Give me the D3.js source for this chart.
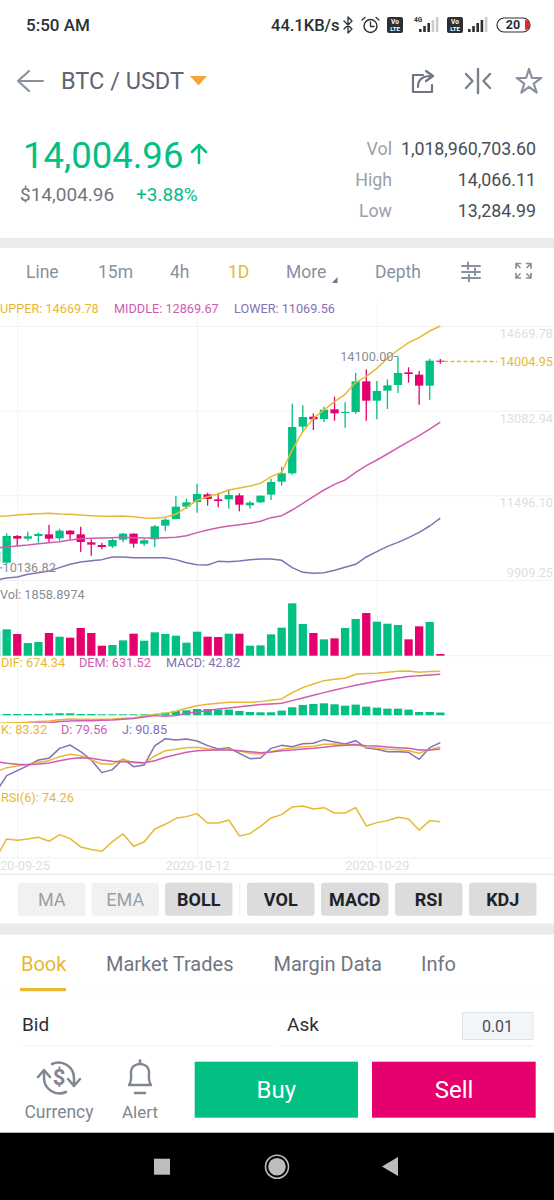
<!DOCTYPE html>
<html>
<head>
<meta charset="utf-8">
<script src="https://cdn.jsdelivr.net/npm/d3@7"></script>
<style>
  html, body { margin: 0; padding: 0; background: #fff; }
  svg { display: block; font-family: Roboto, sans-serif; }
</style>
</head>
<body>
<script>
const dates = ["2020-09-23","2020-09-24","2020-09-25","2020-09-26","2020-09-27","2020-09-28","2020-09-29","2020-09-30",
  "2020-10-01","2020-10-02","2020-10-03","2020-10-04","2020-10-05","2020-10-06","2020-10-07","2020-10-08","2020-10-09",
  "2020-10-10","2020-10-11","2020-10-12","2020-10-13","2020-10-14","2020-10-15","2020-10-16","2020-10-17","2020-10-18",
  "2020-10-19","2020-10-20","2020-10-21","2020-10-22","2020-10-23","2020-10-24","2020-10-25","2020-10-26","2020-10-27",
  "2020-10-28","2020-10-29","2020-10-30","2020-10-31","2020-11-01","2020-11-02","2020-11-03","2020-11-04"];
const dateTicks = ["2020-09-25","2020-10-12","2020-10-29"];
const priceTicks = [14669.78,13082.94,11496.10,9909.25];

const opens = [10250,10234,10734,10684,10734,10765,10690,10834,10765,10615,10565,10540,10665,10778,10590,10672,10928,11053,11284,11371,11515,11421,11421,11496,11309,11365,11509,11752,11909,12783,12970,12927,13108,13039,13058,13633,13270,13458,13564,13801,13758,13552,14020];
const highs = [10500,10784,10753,10815,10797,10946,10871,10847,10909,10672,10609,10684,10790,10784,10678,10940,11065,11484,11434,11715,11546,11546,11609,11534,11390,11496,11809,12033,13214,13183,13033,13158,13345,13239,13789,13858,13639,13670,14100,13895,13826,14058,14051];
const lows = [10136.82,10222,10547,10647,10609,10609,10647,10672,10434,10365,10484,10509,10615,10515,10547,10528,10828,11046,11240,11171,11303,11271,11246,11196,11246,11353,11409,11677,11884,12677,12721,12871,12895,12764,13020,12895,12921,13114,13414,13608,13195,13289,13964];
const closes = [10450,10734,10684,10728,10772,10684,10834,10765,10622,10572,10528,10659,10778,10590,10653,10915,11040,11284,11365,11521,11428,11390,11503,11321,11359,11490,11746,11909,12777,12964,12921,13102,13033,13058,13633,13270,13452,13558,13789,13770,13552,14020,14004.95];

const bollUpper = [11103,11109,11128,11140,11153,11159,11146,11140,11128,11115,11103,11103,11109,11096,11071,11065,11084,11146,11271,11403,11471,11521,11596,11634,11671,11721,11846,11927,12346,12689,12939,13095,13252,13389,13614,13720,13876,14064,14220,14357,14451,14576,14669.78];
const bollMiddle = [10509,10528,10547,10565,10590,10609,10628,10659,10684,10690,10697,10703,10709,10703,10697,10697,10703,10709,10740,10797,10847,10890,10921,10946,10971,11009,11078,11115,11221,11346,11471,11596,11702,11784,11927,12052,12158,12271,12390,12502,12614,12739,12869.67];
const bollLower = [9909,9947,9966,10016,10047,10078,10141,10203,10247,10272,10291,10341,10341,10328,10328,10328,10328,10291,10234,10197,10191,10259,10253,10266,10291,10303,10303,10278,10141,10053,10034,10047,10091,10147,10203,10341,10441,10540,10615,10703,10803,10921,11069.56];

const volumes = [27500,29400,24200,14100,15250,25300,21200,20100,30900,25300,11160,11900,17100,24550,16740,26040,24180,22320,14500,26800,21200,20830,24550,24550,11160,11530,23800,31250,58400,35340,25300,18230,19340,30880,40920,47600,37940,35700,34220,18230,32740,37570,1858.8974];

const macdBars = [20,20,20,20,20,26,31,31,20,20,15,15,15,15,15,20,41,67,77,97,97,87,87,67,51,46,46,72,123,159,174,184,169,148,164,133,118,102,102,87,51,51,42.82];
const dif = [-123,-118,-113,-108,-97,-87,-67,-56,-61,-61,-61,-56,-46,-36,-10,15,31,61,108,148,169,184,200,200,200,210,230,251,348,425,481,532,553,568,630,640,645,660,676,681,660,671,674.34];
const dem = [-143,-138,-133,-128,-118,-113,-97,-87,-82,-82,-77,-72,-61,-51,-26,-5,-15,-5,31,51,72,97,113,133,148,164,174,184,225,266,307,348,389,425,461,492,522,548,573,594,609,620,631.52];

const kdjK = [39.5,46.6,49.6,52.5,56.1,59,66.1,70.2,67.9,60.2,53.1,53.1,61.4,55.5,54.3,67.3,76.7,79.1,82,82.6,80.2,78.5,79.7,76.1,72,70.8,74.9,79.1,81.4,83.8,84.4,87.9,88.5,87.3,87.9,82.6,81.4,79.1,78.5,76.7,72,78.5,83.32];
const kdjD = [57.2,54.3,52.5,51.9,53.1,54.9,59,62.5,64.3,63.1,60.2,57.8,57.2,56.6,55.5,59,64.9,69.6,73.8,76.7,77.3,77.9,77.9,76.7,74.9,73.2,74.3,76.7,77.9,79.7,80.8,82.6,85,86.1,87.3,85.6,85,83.2,82,80.8,77.9,77.9,79.56];
const kdjJ = [4.1,32.5,41.3,50.2,60.2,63.1,80.8,86.7,74.9,60.2,37.8,43.1,62,48.4,51.3,85,97.9,95.6,97.4,93.8,85.6,79.7,82,72,62.5,63.7,80.8,86.1,83.8,89.1,89.7,96.2,92,88.5,94.4,81.4,79.1,74.9,74.9,73.8,61.4,82,90.85];
const rsi6 = [41.6,58.7,57.5,58.7,60.2,56.6,62.6,59,51.5,49.1,47.6,56.3,63.2,52.1,56,67.7,71.9,77.3,78.8,81.5,73.1,73.1,75.8,61.4,63.5,70.1,77.6,80.6,87.5,88.4,85.7,86.9,82.1,82.1,86.9,70.4,73.4,75.2,78.2,76.7,66.5,75.2,74.26];

const intervalTabs = [["Line",26],["15m",98],["4h",170],["1D",228],["More",286],["Depth",375]];
const indicatorButtons = [["MA",18,false],["EMA",91.5,false],["BOLL",165,true],["VOL",247,true],["MACD",321,true],["RSI",395,true],["KDJ",469,true]];
const bookTabs = [["Book",21],["Market Trades",106],["Margin Data",273.5],["Info",421]];
const statsRows = [["Vol","1,018,960,703.60",149],["High","14,066.11",180],["Low","13,284.99",211]];

const GREEN = "#02c083", RED = "#e6006e", GOLD = "#e6b934", PINK = "#d05cb0", PURPLE = "#8570b4";
const GRID = "#f1f2f4", FAINT = "#dcdfe3", GRAY = "#878d96", DARK = "#5e6673", MID = "#7f8793", BAND = "#e9ebee", INK = "#2b2f36";

const svg = d3.select("body").append("svg").attr("width", 554).attr("height", 1200);

const text = (x, y, s, size, fill, o) => {
  o = o || {};
  return svg.append("text").attr("x", x).attr("y", y).attr("dy", "0.35em")
    .attr("font-size", size).attr("fill", fill)
    .attr("text-anchor", o.anchor || "start")
    .attr("font-weight", o.weight || 400)
    .text(s);
};
const rect = (x, y, w, h, fill) => svg.append("rect").attr("x", x).attr("y", y).attr("width", w).attr("height", h).attr("fill", fill);
const icon = (d, stroke, sw, fill) => svg.append("path").attr("d", d).attr("fill", fill || "none")
  .attr("stroke", stroke || "none").attr("stroke-width", sw || 0).attr("stroke-linecap", "round").attr("stroke-linejoin", "round");

// ---------- chart ----------
const x = d3.scalePoint().domain(dates).range([-3.9, 440.3]);
const y = d3.scaleLinear().domain([priceTicks[0], priceTicks[3]]).range([326, 580]);
const yVol = d3.scaleLinear().domain([0, 60000]).range([655.7, 601.9]);
const yMacd = d3.scaleLinear().domain([0, 700]).range([715.3, 669.7]);
const yKdj = d3.scaleLinear().domain([0, 100]).range([794, 737.5]);
const yRsi = d3.scaleLinear().domain([50, 90]).range([848.6, 804.2]);

const barW = 8.3;
const LABEL = 12.7;

// date axis carries the vertical grid lines
const xAxis = svg.append("g").attr("transform", "translate(0,858)")
  .call(d3.axisBottom(x).tickValues(dateTicks).tickSize(-555).tickPadding(0));
xAxis.select(".domain").remove();
xAxis.selectAll("line").attr("stroke", GRID);
xAxis.selectAll("text").attr("y", 8).attr("dy", "0.35em").attr("font-size", LABEL).attr("font-family", "Roboto").attr("fill", FAINT);

const yAxis = svg.append("g").attr("transform", "translate(554,0)")
  .call(d3.axisLeft(y).tickValues(priceTicks).tickSize(554).tickFormat(d3.format(".2f")));
yAxis.select(".domain").remove();
yAxis.selectAll("line").attr("stroke", GRID);
yAxis.selectAll("text").attr("x", -1).attr("text-anchor", "end").attr("font-size", LABEL).attr("font-family", "Roboto").attr("fill", FAINT)
  .attr("y", (d, i) => i == 3 ? -7.5 : 7).attr("dy", "0.35em");

[655.7, 723, 790, 858].forEach(py => {
  svg.append("line").attr("x1", 0).attr("x2", 554).attr("y1", py).attr("y2", py).attr("stroke", GRID);
});

const isUp = i => closes[i] >= opens[i];

// candles
svg.append("g").selectAll("line").data(dates).enter().append("line")
  .attr("x1", d => x(d)).attr("x2", d => x(d))
  .attr("y1", (d, i) => y(highs[i])).attr("y2", (d, i) => y(lows[i]))
  .attr("stroke", (d, i) => isUp(i) ? GREEN : RED).attr("stroke-width", 1.3);
svg.append("g").selectAll("rect").data(dates).enter().append("rect")
  .attr("x", d => x(d) - barW / 2).attr("width", barW)
  .attr("y", (d, i) => y(Math.max(opens[i], closes[i])))
  .attr("height", (d, i) => Math.max(1, y(Math.min(opens[i], closes[i])) - y(Math.max(opens[i], closes[i]))))
  .attr("fill", (d, i) => isUp(i) ? GREEN : RED);

const drawLine = (vals, scale, color, clip) => {
  const line = d3.line().x((d, i) => x(dates[i])).y(d => scale(d));
  const p = svg.append("path").attr("d", line(vals)).attr("fill", "none")
    .attr("stroke", color).attr("stroke-width", 1.5).attr("stroke-linejoin", "round");
  if (clip) p.attr("clip-path", "url(#" + clip + ")");
};

const defs = svg.append("defs");
const addClip = (id, top, bottom) => defs.append("clipPath").attr("id", id).append("rect")
  .attr("x", 0).attr("y", top).attr("width", 554).attr("height", bottom - top);
addClip("macd-clip", 656, 723);
addClip("kdj-clip", 723, 790);
addClip("rsi-clip", 790, 858);

drawLine(bollUpper, y, GOLD);
drawLine(bollMiddle, y, PINK);
drawLine(bollLower, y, PURPLE);

// high / low markers
const maxHigh = d3.max(highs), minLow = d3.min(lows);
const hiX = x(dates[highs.indexOf(maxHigh)]), loX = x(dates[lows.indexOf(minLow)]);
svg.append("line").attr("x1", hiX - 4.5).attr("x2", hiX).attr("y1", y(maxHigh)).attr("y2", y(maxHigh)).attr("stroke", GRAY);
text(hiX - 4.5, y(maxHigh), d3.format(".2f")(maxHigh), LABEL, GRAY, { anchor: "end" });
svg.append("line").attr("x1", loX).attr("x2", loX + 6.5).attr("y1", y(minLow)).attr("y2", y(minLow)).attr("stroke", GRAY);
text(loX + 6.5, y(minLow), d3.format(".2f")(minLow), LABEL, GRAY);

// last price
const lastClose = closes[closes.length - 1];
svg.append("line").attr("x1", 444).attr("x2", 497).attr("y1", y(lastClose)).attr("y2", y(lastClose))
  .attr("stroke", GOLD).attr("stroke-width", 1.4).attr("stroke-dasharray", "4,2.5");
text(553, y(lastClose), d3.format(".2f")(lastClose), LABEL, GOLD, { anchor: "end" });

// volume
svg.append("g").selectAll("rect").data(volumes).enter().append("rect")
  .attr("x", (d, i) => x(dates[i]) - barW / 2).attr("width", barW)
  .attr("y", d => yVol(d)).attr("height", d => yVol(0) - yVol(d))
  .attr("fill", (d, i) => isUp(i) ? GREEN : RED);

// macd
svg.append("g").selectAll("rect").data(macdBars).enter().append("rect")
  .attr("x", (d, i) => x(dates[i]) - barW / 2).attr("width", barW)
  .attr("y", d => yMacd(d)).attr("height", d => yMacd(0) - yMacd(d))
  .attr("fill", GREEN);
drawLine(dif, yMacd, GOLD, "macd-clip");
drawLine(dem, yMacd, PINK, "macd-clip");

// kdj, rsi
drawLine(kdjJ, yKdj, PURPLE, "kdj-clip");
drawLine(kdjK, yKdj, GOLD, "kdj-clip");
drawLine(kdjD, yKdj, PINK, "kdj-clip");
drawLine(rsi6, yRsi, GOLD, "rsi-clip");

// legends
text(0, 309, "UPPER: " + bollUpper[42], LABEL, GOLD);
text(114, 309, "MIDDLE: " + bollMiddle[42], LABEL, PINK);
text(234, 309, "LOWER: " + bollLower[42], LABEL, PURPLE);
text(0, 595, "Vol: " + volumes[42], LABEL, GRAY);
text(1, 663, "DIF: " + dif[42], LABEL, GOLD);
text(79, 663, "DEM: " + dem[42], LABEL, PINK);
text(166, 663, "MACD: " + macdBars[42], LABEL, PURPLE);
text(1, 730, "K: " + kdjK[42], LABEL, GOLD);
text(61, 730, "D: " + kdjD[42], LABEL, PINK);
text(122, 730, "J: " + kdjJ[42], LABEL, PURPLE);
text(1, 798, "RSI(6): " + rsi6[42], LABEL, GOLD);

// ---------- status bar ----------
text(26, 25, "5:50 AM", 17, INK, { weight: 500 });
text(271, 25, "44.1KB/s", 16.5, INK, { weight: 500 });
icon("M344 21 L352 29 L348 33 V17 L352 21 L344 29", INK, 1.3);
svg.append("circle").attr("cx", 370.5).attr("cy", 26).attr("r", 6.5).attr("fill", "none").attr("stroke", INK).attr("stroke-width", 1.4);
icon("M370.5 22 V26.5 H374 M362 20 L365 17.5 M379 20 L376 17.5", INK, 1.3);
[387, 447].forEach(bx => {
  svg.append("rect").attr("x", bx).attr("y", 17).attr("width", 16).attr("height", 16).attr("rx", 2).attr("fill", INK);
  text(bx + 8, 22, "Vo", 6.5, "#fff", { anchor: "middle", weight: 700 });
  text(bx + 8, 29, "LTE", 6, "#fff", { anchor: "middle", weight: 700 });
});
const sigBars = (x0, n) => d3.range(5).forEach(i => {
  const h = 3 + i * 3;
  rect(x0 + i * 4.2, 32 - h, 2.6, h, i < n ? INK : "#c9ccd0");
});
text(418, 20, "4G", 6.5, INK, { anchor: "middle", weight: 700 });
sigBars(419, 3);
sigBars(468, 4);
svg.append("rect").attr("x", 497).attr("y", 18).attr("width", 33).attr("height", 14).attr("rx", 7)
  .attr("fill", "none").attr("stroke", INK).attr("stroke-width", 1.2);
icon("M525 20 A5 5 0 0 1 525 30 Z", null, 0, "#e02a2a");
text(513, 25, "20", 12.5, INK, { anchor: "middle", weight: 700 });

// ---------- header ----------
icon("M43 81 H18 M29 71 L18 81 L29 91", "#8a919e", 2.2);
text(61, 81, "BTC / USDT", 23.5, DARK);
icon("M190 76 H207 L198.5 85.5 Z", null, 0, "#f0a63c");
icon("M423 75 H413 V92 H432 V85 M418 87 C418 79 423 76 431 76 M426 71 L433 76 L426 81", "#6f7681", 2.2);
icon("M478 69 V93 M466 74 L472.5 81 L466 88 M490 74 L483.5 81 L490 88", "#7a8290", 2.4);
svg.append("path").attr("d", d3.symbol(d3.symbolStar, 190)).attr("transform", "translate(529,82)")
  .attr("fill", "none").attr("stroke", "#8a919e").attr("stroke-width", 2.2).attr("stroke-linejoin", "round");

text(23, 155, "14,004.96", 36.5, GREEN);
icon("M199 163 V145 M192 152 L199 145 L206 152", GREEN, 2.5);
text(20, 194, "$14,004.96", 19, "#6f7681");
text(136, 194, "+3.88%", 19, GREEN);

statsRows.forEach(r => {
  text(392, r[2], r[0], 17.8, "#9aa0aa", { anchor: "end" });
  text(536, r[2], r[1], 17.8, "#474d57", { anchor: "end" });
});

rect(0, 238, 554, 10, BAND);

intervalTabs.forEach(t => text(t[1], 271.5, t[0], 17.5, t[0] == "1D" ? GOLD : "#8a919e"));
icon("M337.5 277 V283 H332 Z", null, 0, "#6f7681");
icon("M462 266 H480 M462 272 H480 M462 278 H480 M468 262.5 V269 M475 268.5 V275 M469 275 V281.5", "#8a919e", 2);
icon("M516 268 V263.5 H520.5 M531 268 V263.5 H526.5 M516 273.5 V278 H520.5 M531 273.5 V278 H526.5 M516 263.5 L520 267.5 M531 263.5 L527 267.5 M516 278 L520 274 M531 278 L527 274", "#8a919e", 1.7);

// ---------- indicator buttons ----------
rect(0, 873.5, 554, 1.6, BAND);
indicatorButtons.forEach(b => {
  svg.append("rect").attr("x", b[1]).attr("y", 882.7).attr("width", 67.5).attr("height", 33).attr("rx", 3)
    .attr("fill", b[2] ? "#dcdcdd" : "#f1f1f2");
  text(b[1] + 33.75, 899.5, b[0], 18, b[2] ? "#1e2329" : "#9b9fa5", { anchor: "middle", weight: b[2] ? 700 : 400 });
});
rect(239.2, 883, 1, 33, "#eeeeef");
rect(0, 923.3, 554, 11.4, BAND);

// ---------- book ----------
bookTabs.forEach(t => text(t[1], 964, t[0], 20, t[0] == "Book" ? GOLD : "#6f7681"));
rect(20, 988, 46, 3.3, GOLD);
rect(0, 991.5, 554, 1, "#f6f7f8");
text(22, 1024.5, "Bid", 19, "#2b2f36");
text(287, 1024.5, "Ask", 19, "#2b2f36");
svg.append("rect").attr("x", 462.5).attr("y", 1012.5).attr("width", 70.5).attr("height", 27)
  .attr("fill", "#f3f6f9").attr("stroke", "#dfe3e8");
text(497.5, 1026.5, "0.01", 16, "#474d57", { anchor: "middle" });
rect(22, 1045.5, 252, 1, "#eef0f2");
rect(280, 1045.5, 253, 1, "#eef0f2");

// ---------- bottom bar ----------
icon("M44 1071 V1078 A15.5 15.5 0 0 0 66 1092 M38 1077 L44 1070 L50 1077", MID, 2.5);
icon("M74 1085 V1078 A15.5 15.5 0 0 0 52 1064 M68 1079 L74 1086 L80 1079", MID, 2.5);
text(59, 1077, "$", 22, MID, { anchor: "middle", weight: 700 });
text(59, 1112, "Currency", 17.5, MID, { anchor: "middle" });
icon("M129 1085 C132 1081 131 1076 131 1073 C131 1067 135 1064 140 1064 C145 1064 149 1067 149 1073 C149 1076 148 1081 151 1085 Z", MID, 2.4);
icon("M140 1060.5 V1063 M135 1093 H145", MID, 2.6);
text(140, 1112, "Alert", 17, MID, { anchor: "middle" });
rect(194.7, 1061.7, 163.3, 56, GREEN);
rect(372, 1061.7, 163.7, 56, RED);
text(276.3, 1090, "Buy", 24, "#fff", { anchor: "middle" });
text(454, 1090, "Sell", 24, "#fff", { anchor: "middle" });

// ---------- navigation bar ----------
rect(0, 1132.7, 554, 67.3, "#000");
rect(154, 1158.7, 16, 16, "#bdbdbd");
svg.append("circle").attr("cx", 277).attr("cy", 1166.7).attr("r", 11.5).attr("fill", "none").attr("stroke", "#bdbdbd").attr("stroke-width", 1.6);
svg.append("circle").attr("cx", 277).attr("cy", 1166.7).attr("r", 8.8).attr("fill", "#bdbdbd");
icon("M398 1157 V1176 L382 1166.5 Z", null, 0, "#bdbdbd");
</script>
</body>
</html>
